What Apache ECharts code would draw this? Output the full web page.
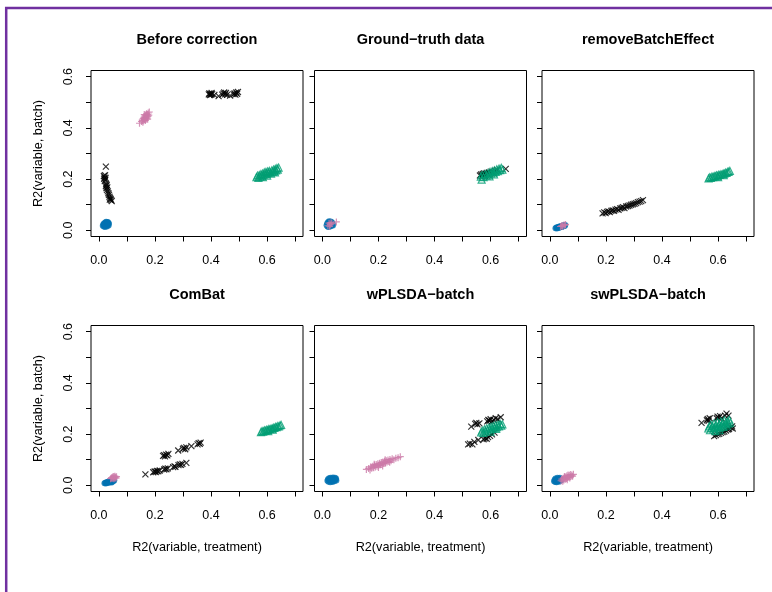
<!DOCTYPE html>
<html>
<head>
<meta charset="utf-8">
<script src="https://cdn.jsdelivr.net/npm/echarts@6/dist/echarts.min.js"></script>
<style>
  html, body { margin: 0; padding: 0; background: #fff; }
  #chart { width: 772px; height: 592px; }
</style>
</head>
<body>
<div id="chart"></div>
<script>
// panel titles and axis ticks
const panelTitles = ["Before correction", "Ground\u2212truth data", "removeBatchEffect",
  "ComBat", "wPLSDA\u2212batch", "swPLSDA\u2212batch"];
const xTicks = [0, 0.1, 0.2, 0.3, 0.4, 0.5, 0.6, 0.7];
const xTickLabels = [0, 0.2, 0.4, 0.6];
const yTicks = [0, 0.1, 0.2, 0.3, 0.4, 0.5, 0.6];
const yTickLabels = [0, 0.2, 0.4, 0.6];
const xName = "R2(variable, treatment)";
const yName = "R2(variable, batch)";

// Before correction
const p1Blue = [[0.014,0.018],[0.016,0.024],[0.018,0.015],[0.019,0.028],[0.021,0.021],[0.022,0.013],[0.023,0.031],[0.024,0.025],[0.025,0.018],[0.026,0.034],[0.027,0.022],[0.028,0.029],[0.029,0.015],[0.030,0.026],[0.031,0.020],[0.032,0.033],[0.033,0.024],[0.034,0.029],[0.035,0.019],[0.036,0.027],[0.024,0.021],[0.027,0.027],[0.020,0.025],[0.031,0.031]];
const p1Pink = [[0.145,0.418],[0.152,0.425],[0.155,0.430],[0.157,0.422],[0.158,0.436],[0.160,0.428],[0.161,0.441],[0.163,0.433],[0.164,0.446],[0.165,0.438],[0.166,0.429],[0.167,0.450],[0.168,0.442],[0.169,0.435],[0.170,0.455],[0.171,0.447],[0.172,0.439],[0.173,0.452],[0.175,0.445],[0.176,0.458],[0.178,0.450],[0.180,0.462],[0.162,0.452],[0.174,0.434]];
const p1Black = [[0.392,0.531],[0.394,0.535],[0.396,0.528],[0.398,0.533],[0.400,0.530],[0.402,0.536],[0.404,0.532],[0.412,0.529],[0.427,0.524],[0.440,0.530],[0.444,0.534],[0.447,0.538],[0.450,0.531],[0.453,0.536],[0.457,0.529],[0.468,0.526],[0.480,0.532],[0.484,0.535],[0.487,0.530],[0.490,0.538],[0.493,0.533],[0.496,0.540],
  [0.025,0.249],[0.018,0.212],[0.020,0.206],[0.022,0.215],[0.019,0.201],[0.023,0.198],[0.021,0.192],[0.024,0.205],[0.026,0.181],[0.025,0.172],[0.028,0.176],[0.027,0.165],[0.030,0.168],[0.029,0.158],[0.032,0.152],[0.034,0.145],[0.036,0.139],[0.038,0.131],[0.040,0.126],[0.042,0.122],[0.044,0.118],[0.046,0.114],[0.039,0.120]];
const p1Green = [[0.562,0.208],[0.566,0.214],[0.569,0.205],[0.572,0.216],[0.575,0.210],[0.578,0.220],[0.581,0.213],[0.584,0.222],[0.587,0.216],[0.590,0.226],[0.593,0.219],[0.596,0.228],[0.599,0.221],[0.602,0.230],[0.605,0.224],[0.608,0.232],[0.611,0.226],[0.614,0.221],[0.617,0.234],[0.620,0.228],[0.623,0.237],[0.626,0.231],[0.629,0.240],[0.632,0.234],[0.635,0.243],[0.638,0.237],[0.641,0.245],[0.628,0.226],[0.600,0.214],[0.585,0.208]];

// Ground-truth data
const p2Blue = [[0.015,0.020],[0.017,0.027],[0.018,0.015],[0.020,0.032],[0.021,0.022],[0.022,0.013],[0.023,0.029],[0.024,0.036],[0.025,0.019],[0.026,0.025],[0.027,0.031],[0.028,0.015],[0.029,0.022],[0.030,0.035],[0.031,0.028],[0.032,0.018],[0.033,0.024],[0.034,0.032],[0.035,0.021],[0.037,0.027],[0.038,0.019],[0.025,0.033]];
const p2Pink = [[0.020,0.018],[0.024,0.028],[0.028,0.022],[0.031,0.030],[0.034,0.026],[0.050,0.033],[0.026,0.016]];
const p2Black = [[0.562,0.214],[0.566,0.218],[0.569,0.211],[0.572,0.220],[0.575,0.215],[0.577,0.222],[0.580,0.213],[0.583,0.219],[0.586,0.224],[0.590,0.218],[0.594,0.226],[0.598,0.222],[0.603,0.229],[0.608,0.226],[0.615,0.232],[0.622,0.236],[0.654,0.240]];
const p2Green = [[0.568,0.198],[0.565,0.210],[0.570,0.217],[0.575,0.208],[0.580,0.220],[0.585,0.214],[0.590,0.224],[0.594,0.217],[0.598,0.228],[0.602,0.221],[0.606,0.231],[0.610,0.225],[0.614,0.234],[0.618,0.228],[0.622,0.238],[0.626,0.231],[0.630,0.241],[0.634,0.235],[0.638,0.244],[0.642,0.237],[0.612,0.218],[0.596,0.211]];

// removeBatchEffect
const p3Blue = [[0.020,0.008],[0.023,0.011],[0.025,0.007],[0.027,0.012],[0.029,0.009],[0.031,0.014],[0.033,0.010],[0.035,0.015],[0.037,0.012],[0.039,0.016],[0.041,0.013],[0.043,0.018],[0.045,0.015],[0.047,0.019],[0.049,0.016],[0.051,0.020],[0.053,0.017],[0.055,0.021],[0.034,0.012],[0.044,0.014]];
const p3Pink = [[0.038,0.015],[0.042,0.018],[0.046,0.017],[0.050,0.021],[0.053,0.020],[0.056,0.023],[0.044,0.016]];
const p3Black = [[0.188,0.066],[0.194,0.070],[0.199,0.067],[0.204,0.072],[0.209,0.074],[0.214,0.071],[0.219,0.076],[0.224,0.078],[0.229,0.076],[0.234,0.081],[0.240,0.083],[0.245,0.080],[0.251,0.086],[0.256,0.088],[0.261,0.090],[0.266,0.087],[0.272,0.093],[0.278,0.095],[0.284,0.097],[0.290,0.100],[0.296,0.102],[0.302,0.104],[0.308,0.106],[0.314,0.110],[0.320,0.112],[0.326,0.114],[0.332,0.118]];
const p3Green = [[0.566,0.203],[0.570,0.207],[0.574,0.205],[0.578,0.210],[0.582,0.208],[0.586,0.212],[0.590,0.211],[0.594,0.215],[0.598,0.213],[0.602,0.217],[0.606,0.216],[0.610,0.219],[0.614,0.218],[0.618,0.222],[0.622,0.221],[0.626,0.225],[0.630,0.224],[0.634,0.228],[0.638,0.229],[0.642,0.232],[0.620,0.215],[0.600,0.208]];

// ComBat
const p4Blue = [[0.020,0.008],[0.023,0.010],[0.025,0.007],[0.027,0.012],[0.029,0.009],[0.031,0.013],[0.033,0.010],[0.035,0.014],[0.037,0.011],[0.039,0.015],[0.041,0.012],[0.043,0.017],[0.045,0.014],[0.047,0.018],[0.049,0.015],[0.051,0.019],[0.053,0.017],[0.055,0.020],[0.036,0.016],[0.046,0.011]];
const p4Pink = [[0.042,0.026],[0.045,0.030],[0.047,0.027],[0.049,0.033],[0.051,0.029],[0.053,0.035],[0.055,0.030],[0.057,0.036],[0.059,0.032],[0.061,0.028],[0.063,0.034],[0.054,0.026]];
const p4Black = [[0.229,0.115],[0.233,0.118],[0.236,0.113],[0.240,0.120],[0.244,0.117],[0.248,0.123],[0.283,0.136],[0.300,0.143],[0.304,0.146],[0.308,0.141],[0.312,0.148],[0.330,0.153],[0.352,0.160],[0.356,0.165],[0.360,0.162],[0.363,0.167],
  [0.166,0.043],[0.194,0.051],[0.199,0.054],[0.203,0.052],[0.207,0.056],[0.212,0.055],[0.217,0.058],[0.233,0.062],[0.237,0.065],[0.241,0.063],[0.246,0.066],[0.265,0.071],[0.270,0.074],[0.273,0.072],[0.284,0.079],[0.289,0.082],[0.293,0.080],[0.298,0.084],[0.312,0.088]];
const p4Green = [[0.578,0.208],[0.582,0.212],[0.586,0.210],[0.590,0.215],[0.594,0.213],[0.598,0.217],[0.602,0.216],[0.606,0.220],[0.610,0.219],[0.614,0.222],[0.618,0.221],[0.622,0.225],[0.626,0.224],[0.630,0.228],[0.634,0.227],[0.638,0.231],[0.642,0.230],[0.646,0.234],[0.650,0.236],[0.620,0.217],[0.604,0.212]];

// wPLSDA-batch
const p5Blue = [[0.018,0.018],[0.020,0.024],[0.022,0.014],[0.024,0.028],[0.026,0.020],[0.028,0.012],[0.029,0.030],[0.031,0.024],[0.033,0.017],[0.035,0.027],[0.036,0.013],[0.038,0.031],[0.040,0.021],[0.041,0.026],[0.043,0.016],[0.045,0.030],[0.047,0.023],[0.049,0.027],[0.050,0.019],[0.032,0.022],[0.039,0.018]];
const p5Pink = [[0.157,0.062],[0.165,0.066],[0.170,0.060],[0.172,0.072],[0.176,0.067],[0.180,0.075],[0.183,0.069],[0.186,0.078],[0.189,0.072],[0.192,0.081],[0.195,0.075],[0.198,0.084],[0.201,0.078],[0.204,0.086],[0.207,0.080],[0.210,0.089],[0.213,0.083],[0.216,0.091],[0.219,0.085],[0.222,0.094],[0.225,0.088],[0.228,0.096],[0.231,0.091],[0.234,0.099],[0.237,0.093],[0.241,0.101],[0.245,0.096],[0.249,0.104],[0.255,0.100],[0.262,0.106],[0.270,0.108],[0.278,0.112],[0.200,0.070],[0.215,0.076],[0.185,0.082],[0.224,0.100],[0.240,0.090]];
const p5Black = [[0.531,0.229],[0.545,0.240],[0.549,0.244],[0.553,0.238],[0.560,0.242],[0.588,0.250],[0.592,0.255],[0.596,0.252],[0.600,0.258],[0.605,0.250],[0.612,0.255],[0.618,0.262],[0.625,0.258],[0.636,0.266],
  [0.520,0.160],[0.526,0.163],[0.535,0.160],[0.542,0.170],[0.556,0.177],[0.575,0.180],[0.580,0.184],[0.591,0.188],[0.598,0.193],[0.605,0.199],[0.614,0.206],[0.586,0.182]];
const p5Green = [[0.566,0.207],[0.570,0.214],[0.574,0.205],[0.578,0.219],[0.582,0.211],[0.586,0.223],[0.590,0.215],[0.594,0.226],[0.598,0.218],[0.602,0.229],[0.606,0.221],[0.610,0.232],[0.614,0.224],[0.618,0.235],[0.622,0.227],[0.626,0.237],[0.630,0.230],[0.634,0.240],[0.638,0.233],[0.642,0.238],[0.600,0.210],[0.620,0.220]];

// swPLSDA-batch
const p6Blue = [[0.015,0.016],[0.017,0.022],[0.019,0.013],[0.020,0.027],[0.022,0.018],[0.024,0.012],[0.025,0.024],[0.027,0.030],[0.028,0.016],[0.030,0.021],[0.031,0.027],[0.033,0.014],[0.035,0.024],[0.036,0.030],[0.038,0.019],[0.040,0.025],[0.042,0.021],[0.026,0.020],[0.033,0.018]];
const p6Pink = [[0.040,0.018],[0.043,0.024],[0.046,0.016],[0.048,0.028],[0.050,0.021],[0.053,0.031],[0.055,0.024],[0.057,0.034],[0.059,0.027],[0.061,0.037],[0.063,0.030],[0.065,0.040],[0.067,0.033],[0.069,0.038],[0.071,0.029],[0.073,0.042],[0.075,0.035],[0.078,0.040],[0.081,0.036],[0.084,0.043],[0.062,0.022],[0.052,0.035]];
const p6Black = [[0.541,0.244],[0.560,0.254],[0.563,0.259],[0.566,0.252],[0.570,0.262],[0.595,0.262],[0.598,0.268],[0.602,0.264],[0.607,0.270],[0.612,0.262],[0.625,0.272],[0.630,0.280],[0.637,0.272],
  [0.586,0.192],[0.592,0.196],[0.598,0.200],[0.604,0.201],[0.610,0.205],[0.616,0.208],[0.622,0.210],[0.628,0.214],[0.634,0.218],[0.639,0.220],[0.645,0.226],[0.650,0.230],[0.652,0.222]];
const p6Green = [[0.565,0.222],[0.568,0.230],[0.571,0.215],[0.574,0.238],[0.577,0.224],[0.580,0.232],[0.583,0.218],[0.586,0.243],[0.589,0.227],[0.592,0.236],[0.595,0.221],[0.598,0.247],[0.601,0.231],[0.604,0.240],[0.607,0.225],[0.610,0.250],[0.613,0.234],[0.616,0.243],[0.619,0.228],[0.622,0.254],[0.625,0.238],[0.628,0.247],[0.631,0.233],[0.634,0.250],[0.637,0.241],[0.640,0.256],[0.643,0.245],[0.605,0.215],[0.590,0.212]];

const panels = [
  [p1Blue, p1Pink, p1Black, p1Green],
  [p2Blue, p2Pink, p2Black, p2Green],
  [p3Blue, p3Pink, p3Black, p3Green],
  [p4Blue, p4Pink, p4Black, p4Green],
  [p5Blue, p5Pink, p5Black, p5Green],
  [p6Blue, p6Pink, p6Black, p6Green]
];

// look of the four groups (R pch 16, 3, 4, 2)
const groupStyle = [
  { symbol: "circle", size: 6, fill: "#0072B2", stroke: "transparent", lw: 0 },
  { symbol: "path://M0,5L10,5M5,0L5,10", size: 7, fill: "transparent", stroke: "#CC79A7", lw: 1.2 },
  { symbol: "path://M0,0L10,10M10,0L0,10", size: 6, fill: "transparent", stroke: "#000", lw: 1.2 },
  { symbol: "triangle", size: 7, fill: "transparent", stroke: "#009E73", lw: 1.2 }
];

const font = "Liberation Sans, Arial, Helvetica, sans-serif";
const colLeft = [91, 314.5, 542];
const rowTop = [70.5, 325.5];
const boxW = 212;
const boxH = 166;

const grid = [], xAxis = [], yAxis = [], series = [], title = [];
panels.forEach((groups, i) => {
  const row = Math.floor(i / 3), col = i % 3;
  grid.push({
    left: colLeft[col], top: rowTop[row], width: boxW, height: boxH,
    show: true, borderColor: "#000", borderWidth: 1, backgroundColor: "transparent"
  });
  title.push({
    text: panelTitles[i], left: colLeft[col] + boxW / 2, top: rowTop[row] - 38,
    textAlign: "center", padding: 0,
    textStyle: { fontFamily: font, fontSize: 14.5, fontWeight: "bold", color: "#000" }
  });
  // axes sit on the box edges, not on zero
  xAxis.push({
    type: "value", gridIndex: i, min: -0.028, max: 0.728,
    axisLine: { show: false, onZero: false }, splitLine: { show: false },
    axisTick: { show: true, inside: false, length: 5, customValues: xTicks, lineStyle: { color: "#000" } },
    axisLabel: { show: true, margin: 18, customValues: xTickLabels, formatter: v => v.toFixed(1),
      fontFamily: font, fontSize: 12.5, color: "#000" },
    name: row === 1 ? xName : "", nameLocation: "middle", nameGap: 49,
    nameTextStyle: { fontFamily: font, fontSize: 12.7, color: "#000" }
  });
  yAxis.push({
    type: "value", gridIndex: i, min: -0.024, max: 0.624,
    axisLine: { show: false, onZero: false }, splitLine: { show: false },
    axisTick: { show: true, inside: false, length: 5, customValues: yTicks, lineStyle: { color: "#000" } },
    axisLabel: { show: col === 0, margin: 16, rotate: 90, customValues: yTickLabels, formatter: v => v.toFixed(1),
      fontFamily: font, fontSize: 12.5, color: "#000" },
    name: col === 0 ? yName : "", nameLocation: "middle", nameGap: 46,
    nameTextStyle: { fontFamily: font, fontSize: 12.7, color: "#000" }
  });
  groups.forEach((data, g) => {
    const s = groupStyle[g];
    series.push({
      type: "scatter", xAxisIndex: i, yAxisIndex: i, data: data,
      symbol: s.symbol, symbolSize: s.size, silent: true,
      itemStyle: { color: s.fill, borderColor: s.stroke, borderWidth: s.lw }
    });
  });
});

const chart = echarts.init(document.getElementById("chart"));
chart.setOption({
  animation: false,
  backgroundColor: "#fff",
  title: title,
  grid: grid,
  xAxis: xAxis,
  yAxis: yAxis,
  series: series,
  graphic: [
    { type: "line", shape: { x1: 5, y1: 8, x2: 772, y2: 8 }, style: { stroke: "#7030A0", lineWidth: 2.5 } },
    { type: "line", shape: { x1: 6.2, y1: 7, x2: 6.2, y2: 592 }, style: { stroke: "#7030A0", lineWidth: 2.5 } }
  ]
});
</script>
</body>
</html>
